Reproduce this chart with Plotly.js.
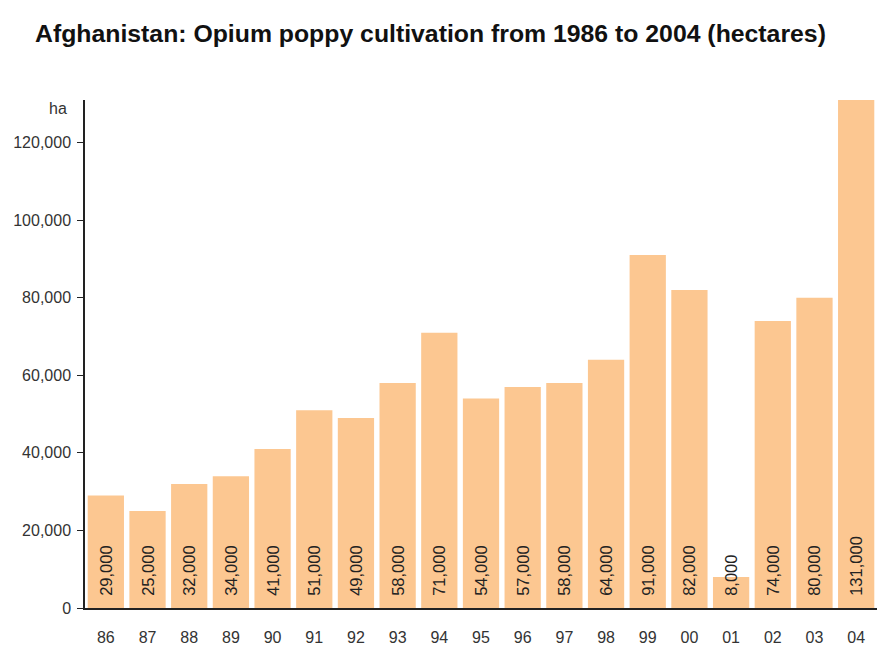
<!DOCTYPE html>
<html>
<head>
<meta charset="utf-8">
<script src="https://cdn.plot.ly/plotly-3.0.1.min.js"></script>
<style>html,body{margin:0;padding:0;background:#fff;}#chart{width:877px;height:645px;}</style>
</head>
<body>
<div id="chart"></div>
<script>
const years = ['86','87','88','89','90','91','92','93','94','95','96','97','98','99','00','01','02','03','04'];
const hectares = [29000,25000,32000,34000,41000,51000,49000,58000,71000,54000,57000,58000,64000,91000,82000,8000,74000,80000,131000];
const yTicks = [0,20000,40000,60000,80000,100000,120000];
const yTickText = ['0','20,000','40,000','60,000','80,000','100,000','120,000'];

const trace = {
  type: 'bar',
  x: years,
  y: hectares,
  marker: {color: '#FCC791'},
  texttemplate: '\u00a0\u00a0%{y:,}',
  textposition: 'inside',
  insidetextanchor: 'start',
  textangle: -90,
  constraintext: 'none',
  cliponaxis: false,
  textfont: {family: 'Liberation Sans, Arial, sans-serif', size: 16.5, color: '#222'},
  hoverinfo: 'x+y'
};

const layout = {
  width: 877, height: 645,
  margin: {l: 85, r: 0, t: 100, b: 37},
  paper_bgcolor: '#fff', plot_bgcolor: '#fff',
  bargap: 0.13,
  showlegend: false,
  font: {family: 'Liberation Sans, Arial, sans-serif', color: '#333'},
  title: {
    text: '<b>Afghanistan: Opium poppy cultivation from 1986 to 2004 (hectares)</b>',
    x: 35/877, xanchor: 'left', xref: 'container',
    y: 1 - 33/645, yanchor: 'middle', yref: 'container',
    font: {family: 'Liberation Sans, Arial, sans-serif', size: 24.8, color: '#111'}
  },
  xaxis: {
    type: 'category',
    showline: true, linecolor: '#222', linewidth: 1.5,
    ticks: '', showgrid: false, zeroline: false,
    ticklabelstandoff: 14,
    tickfont: {size: 16, color: '#333'}
  },
  yaxis: {
    range: [0, 131000],
    tickvals: yTicks, ticktext: yTickText,
    showline: true, linecolor: '#222', linewidth: 1.5,
    ticks: 'outside', ticklen: 6, tickcolor: '#222', tickwidth: 1,
    ticklabelstandoff: 3,
    showgrid: false, zeroline: false,
    tickfont: {size: 16, color: '#333'}
  },
  annotations: [{
    text: 'ha', xref: 'paper', yref: 'paper',
    x: -16/792, y: 1, xanchor: 'right', yanchor: 'middle', yshift: -8,
    showarrow: false, font: {size: 16, color: '#333'}
  }]
};

Plotly.newPlot('chart', [trace], layout, {displayModeBar: false});
</script>
</body>
</html>
